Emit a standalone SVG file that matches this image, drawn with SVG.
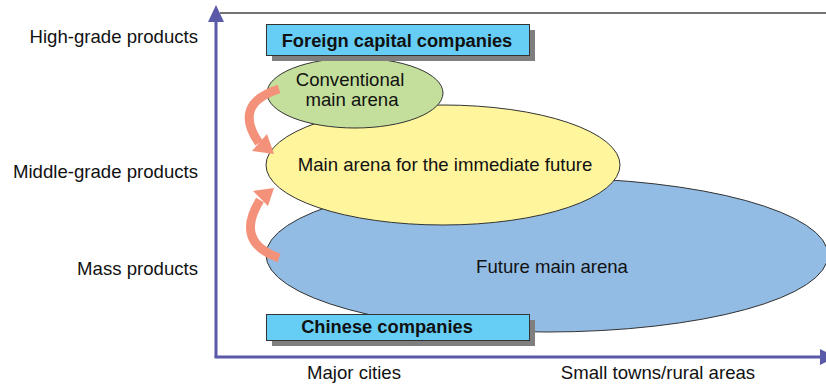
<svg xmlns="http://www.w3.org/2000/svg" width="826" height="384" viewBox="0 0 826 384">
  <style>
    text { font-family: "Liberation Sans", Arial, sans-serif; font-size: 18.6px; fill: #111; }
    .axis-label { text-anchor: end; }
    .mid { text-anchor: middle; }
    .bold { font-weight: bold; text-anchor: middle; font-size: 18.3px; }
    .arena { stroke: #333; stroke-width: 1; }
    .box { fill: #66cef5; stroke: #333; stroke-width: 1; }
    .shadow { fill: #7f7f7f; }
    .axis { stroke: #5b5aa8; stroke-width: 3; fill: none; }
    .shift { fill: none; stroke: #f4917a; stroke-width: 9; }
  </style>

  <!-- frame top and axes -->
  <g id="axes">
    <line x1="220" y1="13" x2="826" y2="13" stroke="#444" stroke-width="1.5"/>
    <line class="axis" x1="216" y1="20" x2="216" y2="357"/>
    <line class="axis" x1="214.5" y1="357" x2="822" y2="357"/>
    <polygon points="216,5 208,22 224,22" fill="#5b5aa8"/>
    <polygon points="836,357 820,349 820,365" fill="#5b5aa8"/>
  </g>

  <!-- axis labels -->
  <g id="y-labels">
    <text class="axis-label" x="198" y="43">High-grade products</text>
    <text class="axis-label" x="198" y="178">Middle-grade products</text>
    <text class="axis-label" x="198" y="275">Mass products</text>
  </g>
  <g id="x-labels">
    <text class="mid" x="354" y="379">Major cities</text>
    <text class="mid" x="658" y="379">Small towns/rural areas</text>
  </g>

  <!-- arenas -->
  <g id="future-arena">
    <ellipse class="arena" cx="547" cy="255" rx="281" ry="77" fill="#92bce4"/>
    <text class="mid" x="552" y="273">Future main arena</text>
  </g>
  <g id="immediate-arena">
    <ellipse class="arena" cx="443" cy="165" rx="177" ry="60" fill="#fff59d"/>
    <text class="mid" x="445" y="171">Main arena for the immediate future</text>
  </g>
  <g id="conventional-arena">
    <ellipse class="arena" cx="355" cy="93" rx="88" ry="35" fill="#c4df9b"/>
    <text class="mid" x="350" y="86">Conventional</text>
    <text class="mid" x="352" y="106">main arena</text>
  </g>

  <!-- company bands -->
  <g id="foreign-companies">
    <rect class="shadow" x="272" y="30" width="263" height="31"/>
    <rect class="box" x="266.5" y="24.5" width="263" height="31"/>
    <text class="bold" x="397" y="47">Foreign capital companies</text>
  </g>
  <g id="chinese-companies">
    <rect class="shadow" x="272" y="320" width="263" height="26"/>
    <rect class="box" x="266.5" y="314.5" width="263" height="26"/>
    <text class="bold" x="387" y="333">Chinese companies</text>
  </g>

  <!-- shift arrows -->
  <g id="connectors">
    <path class="shift" d="M 279 89 Q 232 104 259 143"/>
    <polygon points="274,154 252,151 267,134" fill="#f4917a"/>
    <path class="shift" d="M 279 258 Q 234 242 260 200"/>
    <polygon points="274,188 253,191 268,206" fill="#f4917a"/>
  </g>
</svg>
